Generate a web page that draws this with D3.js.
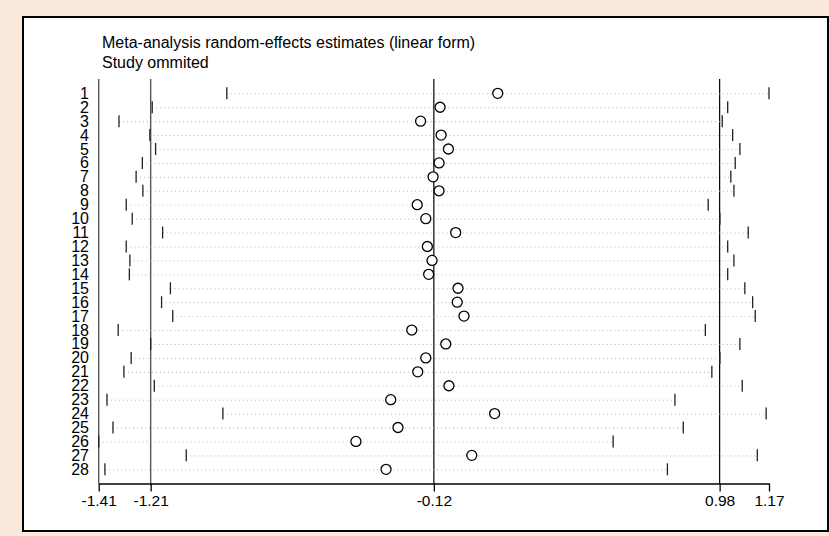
<!DOCTYPE html>
<html>
<head>
<meta charset="utf-8">
<script src="https://cdn.jsdelivr.net/npm/d3@7"></script>
<style>
  html, body { margin: 0; padding: 0; background: #fbe9dc; }
  svg { display: block; }
  text { font-family: "Liberation Sans", Arial, sans-serif; fill: #000; }
</style>
</head>
<body>
<svg id="chart" width="829" height="536"></svg>
<script>
const studies = ["1","2","3","4","5","6","7","8","9","10","11","12","13","14","15","16","17","18","19","20","21","22","23","24","25","26","27","28"];
const estimate = [0.126,-0.096,-0.171,-0.092,-0.064,-0.100,-0.123,-0.100,-0.184,-0.151,-0.036,-0.145,-0.127,-0.140,-0.027,-0.030,-0.004,-0.205,-0.074,-0.151,-0.182,-0.062,-0.286,0.114,-0.258,-0.420,0.026,-0.304];
const lower = [-0.917,-1.204,-1.332,-1.213,-1.191,-1.242,-1.266,-1.240,-1.304,-1.281,-1.164,-1.304,-1.290,-1.292,-1.134,-1.168,-1.125,-1.335,-1.210,-1.285,-1.313,-1.196,-1.378,-0.932,-1.355,-1.410,-1.073,-1.386];
const upper = [1.170,1.011,0.990,1.030,1.058,1.040,1.023,1.035,0.936,0.981,1.090,1.011,1.035,1.011,1.077,1.107,1.117,0.925,1.058,0.981,0.950,1.067,0.808,1.159,0.840,0.570,1.125,0.779];
const tickValues = [-1.41,-1.21,-0.12,0.98,1.17];
const tickLabels = ["-1.41","-1.21","-0.12","0.98","1.17"];
const refLines = [-1.41,-1.21,-0.12,0.98];
const refColors = ["#555","#555","#000","#000"];
const titleLines = ["Meta-analysis random-effects estimates (linear form)","Study ommited"];

const rows = studies.map((s,i)=>({s, e:estimate[i], lo:lower[i], hi:upper[i]}));

const svg = d3.select("#chart");

// panel
svg.append("rect").attr("x",0).attr("y",0).attr("width",829).attr("height",536).attr("fill","#fbe9dc");
svg.append("rect").attr("x",23).attr("y",17).attr("width",805).attr("height",514)
  .attr("fill","#fff").attr("stroke","#000").attr("stroke-width",2);

const x = d3.scaleLinear().domain([-1.41,1.17]).range([98.7,769]);
const y = d3.scalePoint().domain(studies).range([93.3,469.3]);
const axisY = 483.5;

// title
svg.selectAll("text.title").data(titleLines).join("text").attr("class","title")
  .attr("x",102).attr("y",(d,i)=>48+i*19.7).attr("font-size",16).text(d=>d);

// reference lines
svg.selectAll("line.ref").data(refLines).join("line").attr("class","ref")
  .attr("x1",d=>x(d)).attr("x2",d=>x(d)).attr("y1",79).attr("y2",axisY)
  .attr("stroke",(d,i)=>refColors[i]).attr("stroke-width",(d,i)=>i<2?1.4:1.2);

// dotted CI lines
svg.selectAll("line.ci").data(rows).join("line").attr("class","ci")
  .attr("x1",d=>x(d.lo)).attr("x2",d=>x(d.hi))
  .attr("y1",d=>y(d.s)+0.5).attr("y2",d=>y(d.s)+0.5)
  .attr("stroke","#b5b5b5").attr("stroke-width",1).attr("stroke-dasharray","1,3");

// CI caps
const cap = 6;
["lo","hi"].forEach(k=>{
  svg.selectAll("line.cap-"+k).data(rows).join("line").attr("class","cap-"+k)
    .attr("x1",d=>x(d[k])).attr("x2",d=>x(d[k]))
    .attr("y1",d=>y(d.s)-cap).attr("y2",d=>y(d.s)+cap)
    .attr("stroke","#222").attr("stroke-width",1.3);
});

// estimates
svg.selectAll("circle.est").data(rows).join("circle").attr("class","est")
  .attr("cx",d=>x(d.e)).attr("cy",d=>y(d.s)).attr("r",5)
  .attr("fill","#fff").attr("stroke","#000").attr("stroke-width",1.3);

// row labels
svg.selectAll("text.row").data(rows).join("text").attr("class","row")
  .attr("x",89).attr("y",d=>y(d.s)+5.5).attr("text-anchor","end")
  .attr("font-size",16).text(d=>d.s);

// x axis
const axis = d3.axisBottom(x).tickValues(tickValues).tickSize(8).tickSizeOuter(0)
  .tickFormat((d,i)=>tickLabels[i]);
const g = svg.append("g").attr("transform",`translate(0,${axisY})`).call(axis);
g.select(".domain").attr("stroke","#000").attr("stroke-width",1.3);
g.selectAll(".tick line").attr("stroke","#000").attr("stroke-width",1.3);
g.selectAll(".tick text").attr("font-size",15.5).attr("font-family","Liberation Sans, Arial, sans-serif")
  .attr("fill","#000").attr("y",11).attr("dy","0.71em");
</script>
</body>
</html>
